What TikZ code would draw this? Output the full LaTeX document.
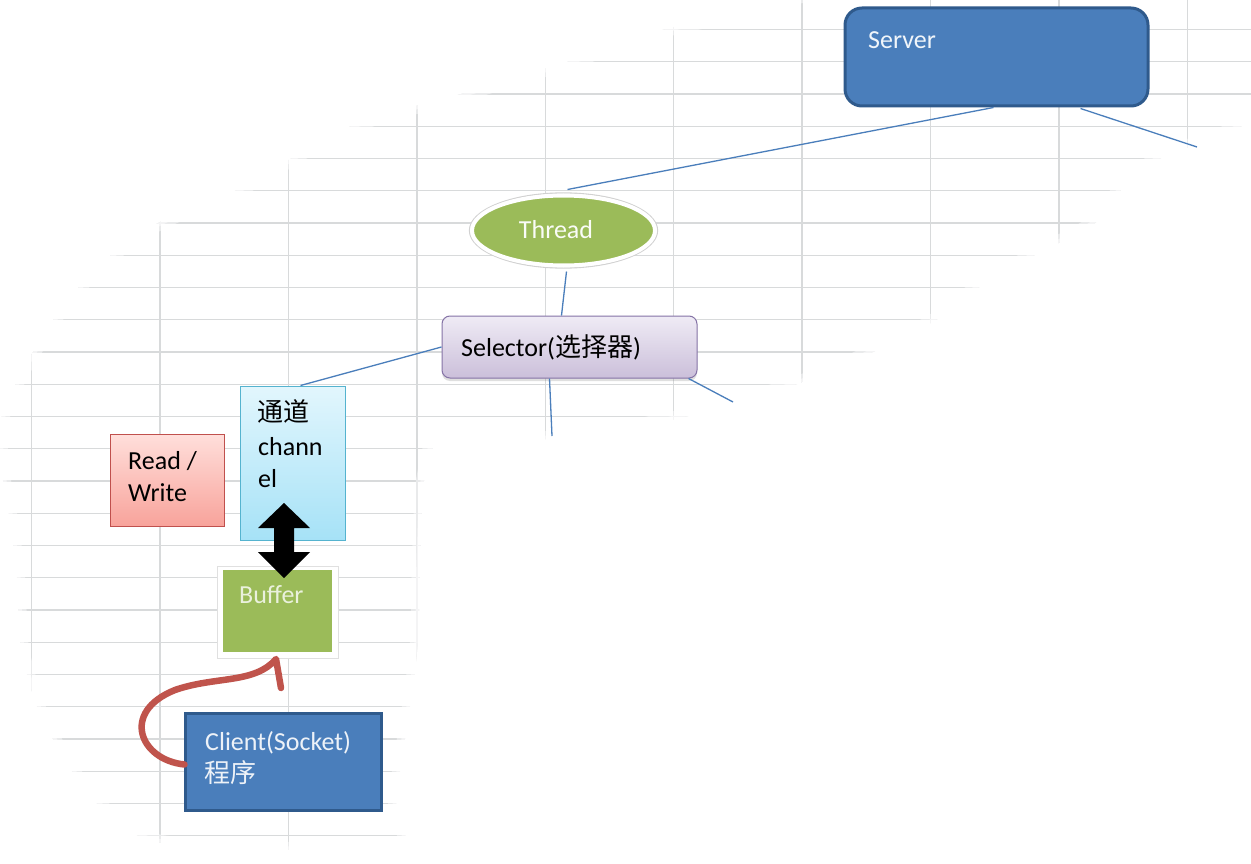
\documentclass[tikz,border=0pt]{standalone}
\usepackage{fontspec}
\setmainfont{Carlito}
\newfontfamily\cjk{Noto Sans CJK SC}
\usetikzlibrary{shapes.geometric,shadows,calc}
\definecolor{gridc}{HTML}{D8DADB}
\definecolor{lineblue}{HTML}{4A7EBB}
\definecolor{boxblue}{HTML}{4A7EBB}
\definecolor{boxblueb}{HTML}{2F5A8C}
\definecolor{olive}{HTML}{9BBB59}
\definecolor{selT}{HTML}{EFEBF5}
\definecolor{selB}{HTML}{CBBFDA}
\definecolor{selD}{HTML}{8573A6}
\definecolor{chT}{HTML}{E2F6FD}
\definecolor{chB}{HTML}{A6E2F7}
\definecolor{chD}{HTML}{55B3CF}
\definecolor{rwT}{HTML}{FFDFDB}
\definecolor{rwB}{HTML}{F8A39B}
\definecolor{rwD}{HTML}{C0504D}
\definecolor{redarrow}{HTML}{C0544C}
\definecolor{buftext}{HTML}{EAF1DD}
\def\blobpath{plot[smooth cycle, tension=0.55] coordinates {
 (0,425) (16,383) (33,352) (53,320) (78,288) (110,256) (160,222) (237,190)
 (349,127) (461,94) (567,62) (666,29) (780,6) (830,-6) (1262,-6) (1262,100)
 (1240,127) (1159,159) (1120,191) (1095,223) (1033,256) (978,288) (936,320)
 (873,352) (797,384) (684,417) (560,438) (445,442) (425,475) (420,560)
 (418,640) (410,706) (400,771) (396,810) (400,846) (300,850) (157,842)
 (100,806) (72,771) (53,739) (37,706) (27,674) (20,640) (17,577) (10,520)
 (3,480)}}
\begin{document}
\begin{tikzpicture}[x=1pt,y=-1pt,
  txt/.style={font=\fontsize{26}{32}\selectfont, inner sep=0pt, anchor=base west},
  conn/.style={draw=lineblue, line width=1.3pt},
  bluebox/.style={fill=boxblue, draw=boxblueb, line width=3pt, inner sep=0pt},
  gridline/.style={draw=gridc, line width=1.4pt}]
\useasboundingbox (0,0) rectangle (1251,864);
\fill[white] (0,0) rectangle (1251,864);
% grid inside the blob
\begin{scope}
\clip \blobpath;
\foreach \k in {0,...,26} \draw[gridline] (0,29.5+32.25*\k) -- (1251,29.5+32.25*\k);
\foreach \k in {0,...,9} \draw[gridline] (31.7+128.4*\k,0) -- (31.7+128.4*\k,864);
\draw[white, line width=16pt, opacity=0.45] \blobpath;
\draw[white, line width=7pt, opacity=0.5] \blobpath;
\end{scope}

% nodes
\node[bluebox, rounded corners=17pt, minimum width=303pt, minimum height=98pt] (server) at (996.5,57) {};
\node[txt, text=white!92!boxblue] (servert) at (868,49) {Server};

\node[ellipse, draw=black!18, line width=1.3pt, minimum width=188pt, minimum height=75pt] (threadrim) at (563.5,230.5) {};
\node[ellipse, fill=olive, draw=white, line width=4pt, minimum width=183pt, minimum height=70pt] (thread) at (563.5,230.5) {};
\node[txt, anchor=base, text=white!95!olive] (threadt) at (556,238) {Thread};

\node[draw=selD, line width=1pt, rounded corners=8pt, top color=selT, bottom color=selB,
      minimum width=255pt, minimum height=62pt,
      drop shadow={opacity=0.25, shadow xshift=0pt, shadow yshift=-3pt}] (selector) at (569.5,347) {};
\node[txt] (selectort) at (461,356) {Selector({\cjk 选择器})};

\node[draw=chD, line width=1pt, top color=chT, bottom color=chB,
      minimum width=105pt, minimum height=154pt] (channel) at (292.5,463) {};
\node[txt] (ch1) at (257,421) {{\cjk 通道}};
\node[txt] (ch2) at (258,455) {chann};
\node[txt] (ch3) at (258,487) {el};

\node[draw=rwD, line width=1pt, top color=rwT, bottom color=rwB,
      minimum width=114pt, minimum height=92pt] (rw) at (167,480) {};
\node[txt] (rw1) at (128,469) {Read /};
\node[txt] (rw2) at (128,501) {Write};

\node[fill=white, draw=black!12, line width=1pt, minimum width=121pt, minimum height=92pt] (bufframe) at (277.5,612) {};
\node[fill=olive, minimum width=109pt, minimum height=82pt] (buffer) at (277.5,611) {};
\node[txt, text=buftext] (buffert) at (239,603) {Buffer};

\node[bluebox, minimum width=196pt, minimum height=97pt] (client) at (283,761.5) {};
\node[txt, text=white!90!boxblue] (client1) at (205,750) {Client(Socket)};
\node[txt, text=white!90!boxblue] (client2) at (204,782) {{\cjk 程序}};

% double block arrow between channel and buffer
\fill[black] (284,503) -- (310,528) -- (294,528) -- (294,552) -- (310,552) -- (284,578)
  -- (258,552) -- (274,552) -- (274,528) -- (258,528) -- cycle;

% connectors
\coordinate (srvfree) at (1197,147);
\coordinate (selfreeA) at (552,436);
\coordinate (selfreeB) at (733,402);
\draw[conn] ($(server.south)+(-3,0)$) -- ($(thread.north)+(4,-4)$);
\draw[conn] ($(server.south)+(84,1)$) -- (srvfree);
\draw[conn] ($(thread.south)+(3,4)$) -- ($(selector.north)+(-8,0)$);
\draw[conn] (selector.west) -- ($(channel.north)+(8,0)$);
\draw[conn] ($(selector.south)+(-20,0)$) -- (selfreeA);
\draw[conn] ($(selector.south east)+(-9,0)$) -- (selfreeB);

% red curved arrow from client to buffer
\coordinate (redtip) at (276,659);
\draw[redarrow, line width=6.5pt, line cap=round, line join=round]
  ($(client.west)+(1,3)$) .. controls (140,760) and (120,712) .. (175,690)
  .. controls (215,676) and (255,684) .. (redtip) -- (281,688);
\end{tikzpicture}
\end{document}
